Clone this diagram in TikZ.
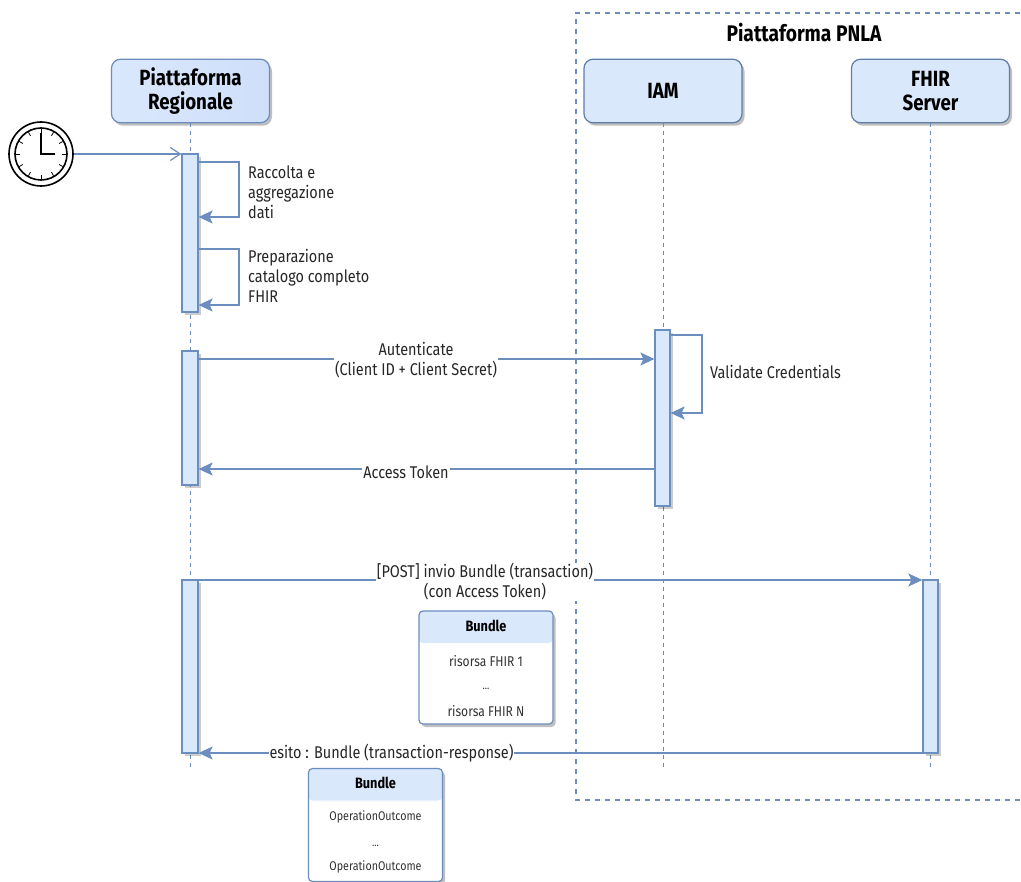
\documentclass[tikz,border=0pt]{standalone}
\usepackage{fontspec}
\setmainfont[FakeStretch=0.85]{Fira Sans}
\usetikzlibrary{shadows,arrows.meta}
\definecolor{edge}{HTML}{6C8EBF}
\definecolor{edgedark}{HTML}{5F7EA6}
\definecolor{paleblue}{HTML}{DAE8FC}
\definecolor{palebluer}{HTML}{CFDFFA}
\tikzset{
  actorbox/.style={draw=edgedark,line width=1.2pt,fill=paleblue,rounded corners=9pt,minimum width=158pt,minimum height=63.5pt,align=center,font=\fontsize{22}{24}\selectfont\bfseries,text=black,drop shadow={shadow xshift=2.5pt,shadow yshift=-3pt,opacity=.25,fill=black}},
  bar/.style={draw=edge,line width=1.2pt,fill=paleblue,minimum width=16pt,inner sep=0pt,drop shadow={shadow xshift=2.5pt,shadow yshift=-3pt,opacity=.2,fill=black}},
  lifeline/.style={draw=edge,line width=1pt,dash pattern=on 4pt off 4pt},
  msg/.style={draw=edge,line width=1.2pt,-{Stealth[length=14pt,width=13pt,inset=3pt]}},
  clockline/.style={draw=edge,line width=1.2pt,-{Straight Barb[length=10pt,width=13pt]}},
  lbl/.style={font=\fontsize{17}{20}\selectfont,text=black!85,align=center,inner sep=1pt},
  leftlbl/.style={lbl,align=left,anchor=west},
  msglbl/.style={lbl,fill=white},
  bundlebox/.style={draw=edge,line width=1.2pt,fill=white,rounded corners=4pt,minimum width=134pt,minimum height=113pt,inner sep=0pt,drop shadow={shadow xshift=2.5pt,shadow yshift=-3pt,opacity=.25,fill=black}},
  bundlehead/.style={font=\fontsize{15}{16}\selectfont\bfseries,text=black,inner sep=0pt},
  bundletext/.style={font=\fontsize{14.2}{16}\selectfont,text=black!80,inner sep=0pt},
  outcometext/.style={font=\fontsize{12.6}{16}\selectfont,text=black!80,inner sep=0pt},
  clockring/.style={draw=black,line width=1.6pt,circle,inner sep=0pt},
}
\begin{document}
\begin{tikzpicture}[x=1pt,y=-1pt]
\useasboundingbox (0,0) rectangle (1021,882);
\fill[white] (0,0) rectangle (1021,882);
% group frame
\begin{scope}
\clip (0,0) rectangle (1021,882);
\draw[edge,line width=1.2pt,dash pattern=on 5pt off 5pt] (1030,13) -- (576,13) -- (576,800) -- (1030,800);
\end{scope}
\node[font=\fontsize{22.6}{26}\selectfont\bfseries,text=black,inner sep=0pt] (grp) at (804,33) {Piattaforma PNLA};
% actors
\node[actorbox,draw=edge,left color=paleblue,right color=palebluer] (pr) at (190.5,91) {Piattaforma\\Regionale};
\node[actorbox] (iam) at (663,91) {IAM};
\node[actorbox] (fhir) at (930.5,91) {FHIR\\Server};
% lifelines
\coordinate (prend) at (190.5,768);
\coordinate (iamend) at (663,768);
\coordinate (fhirend) at (930.5,768);
\draw[lifeline] (pr.south) -- (prend);
\draw[lifeline] (iam.south) -- (iamend);
\draw[lifeline] (fhir.south) -- (fhirend);
% activation bars
\node[bar,minimum height=158pt] (pra) at (190,233) {};
\node[bar,minimum height=134pt] (prb) at (190,418) {};
\node[bar,minimum height=173pt] (prc) at (190,666.5) {};
\node[bar,minimum width=15pt,minimum height=176pt] (iama) at (662.5,418) {};
\node[bar,minimum width=15pt,minimum height=173pt] (fhira) at (930.5,666.5) {};
% clock
\node[clockring,minimum size=64pt] (clock) at (41,154) {};
\node[clockring,minimum size=52pt] (clockin) at (41,154) {};
\foreach \a in {0,30,...,330}{
  \draw[black,line width=.8pt] (clock.center) ++(\a:21) -- ++(\a:4);
}
\coordinate (hup) at (41,133);
\coordinate (hright) at (54.5,154);
\draw[black,line width=1.4pt] (hup) -- (clock.center) -- (hright);
% trigger
\draw[clockline] (clock.east) -- (pra.west |- clock.east);
% self messages
\draw[msg] (pra.east |- 0,162) -- (239,162) -- (239,217) -- (pra.east |- 0,217);
\draw[msg] (pra.east |- 0,249) -- (239,249) -- (239,305) -- (pra.east |- 0,305);
\draw[msg] (iama.east |- 0,335) -- (702,335) -- (702,413) -- (iama.east |- 0,413);
\node[leftlbl] (l1) at (247,192) {Raccolta e\\aggregazione\\dati};
\node[leftlbl] (l2) at (247,276) {Preparazione\\catalogo completo\\FHIR};
\node[leftlbl] (l3) at (709,372) {Validate Credentials};
% messages
\draw[msg] (prb.east |- 0,359) -- (iama.west |- 0,359);
\node[msglbl] (m1) at (416,360) {Autenticate\\(Client ID + Client Secret)};
\draw[msg] (iama.west |- 0,469) -- (prb.east |- 0,469);
\node[msglbl] (m2) at (406,472) {Access Token};
\draw[msg] (prc.east |- 0,580) -- (fhira.west |- 0,580);
\node[msglbl] (m3) at (485,582) {[POST] invio Bundle (transaction)\\(con Access Token)};
\draw[msg] (fhira.west |- 0,753) -- (prc.east |- 0,753);
\node[msglbl] (m4) at (391.5,753) {esito : Bundle (transaction-response)};
% bundle 1
\node[bundlebox,path picture={\fill[paleblue] (path picture bounding box.north west) rectangle ([yshift=-32pt]path picture bounding box.north east);}] (b1) at (486,667.5) {};
\node[bundlehead] (b1h) at (486,626) {Bundle};
\node[bundletext] (b1a) at (486,661) {risorsa FHIR 1};
\node[bundletext,font=\fontsize{11}{12}\selectfont] (b1b) at (486,689) {...};
\node[bundletext] (b1c) at (486,711) {risorsa FHIR N};
% bundle 2
\node[bundlebox,path picture={\fill[paleblue] (path picture bounding box.north west) rectangle ([yshift=-32pt]path picture bounding box.north east);}] (b2) at (375.5,825) {};
\node[bundlehead] (b2h) at (375.5,783) {Bundle};
\node[outcometext] (b2a) at (375.5,817) {OperationOutcome};
\node[outcometext,font=\fontsize{11}{12}\selectfont] (b2b) at (375.5,846) {...};
\node[outcometext] (b2c) at (375.5,867) {OperationOutcome};
\end{tikzpicture}
\end{document}
